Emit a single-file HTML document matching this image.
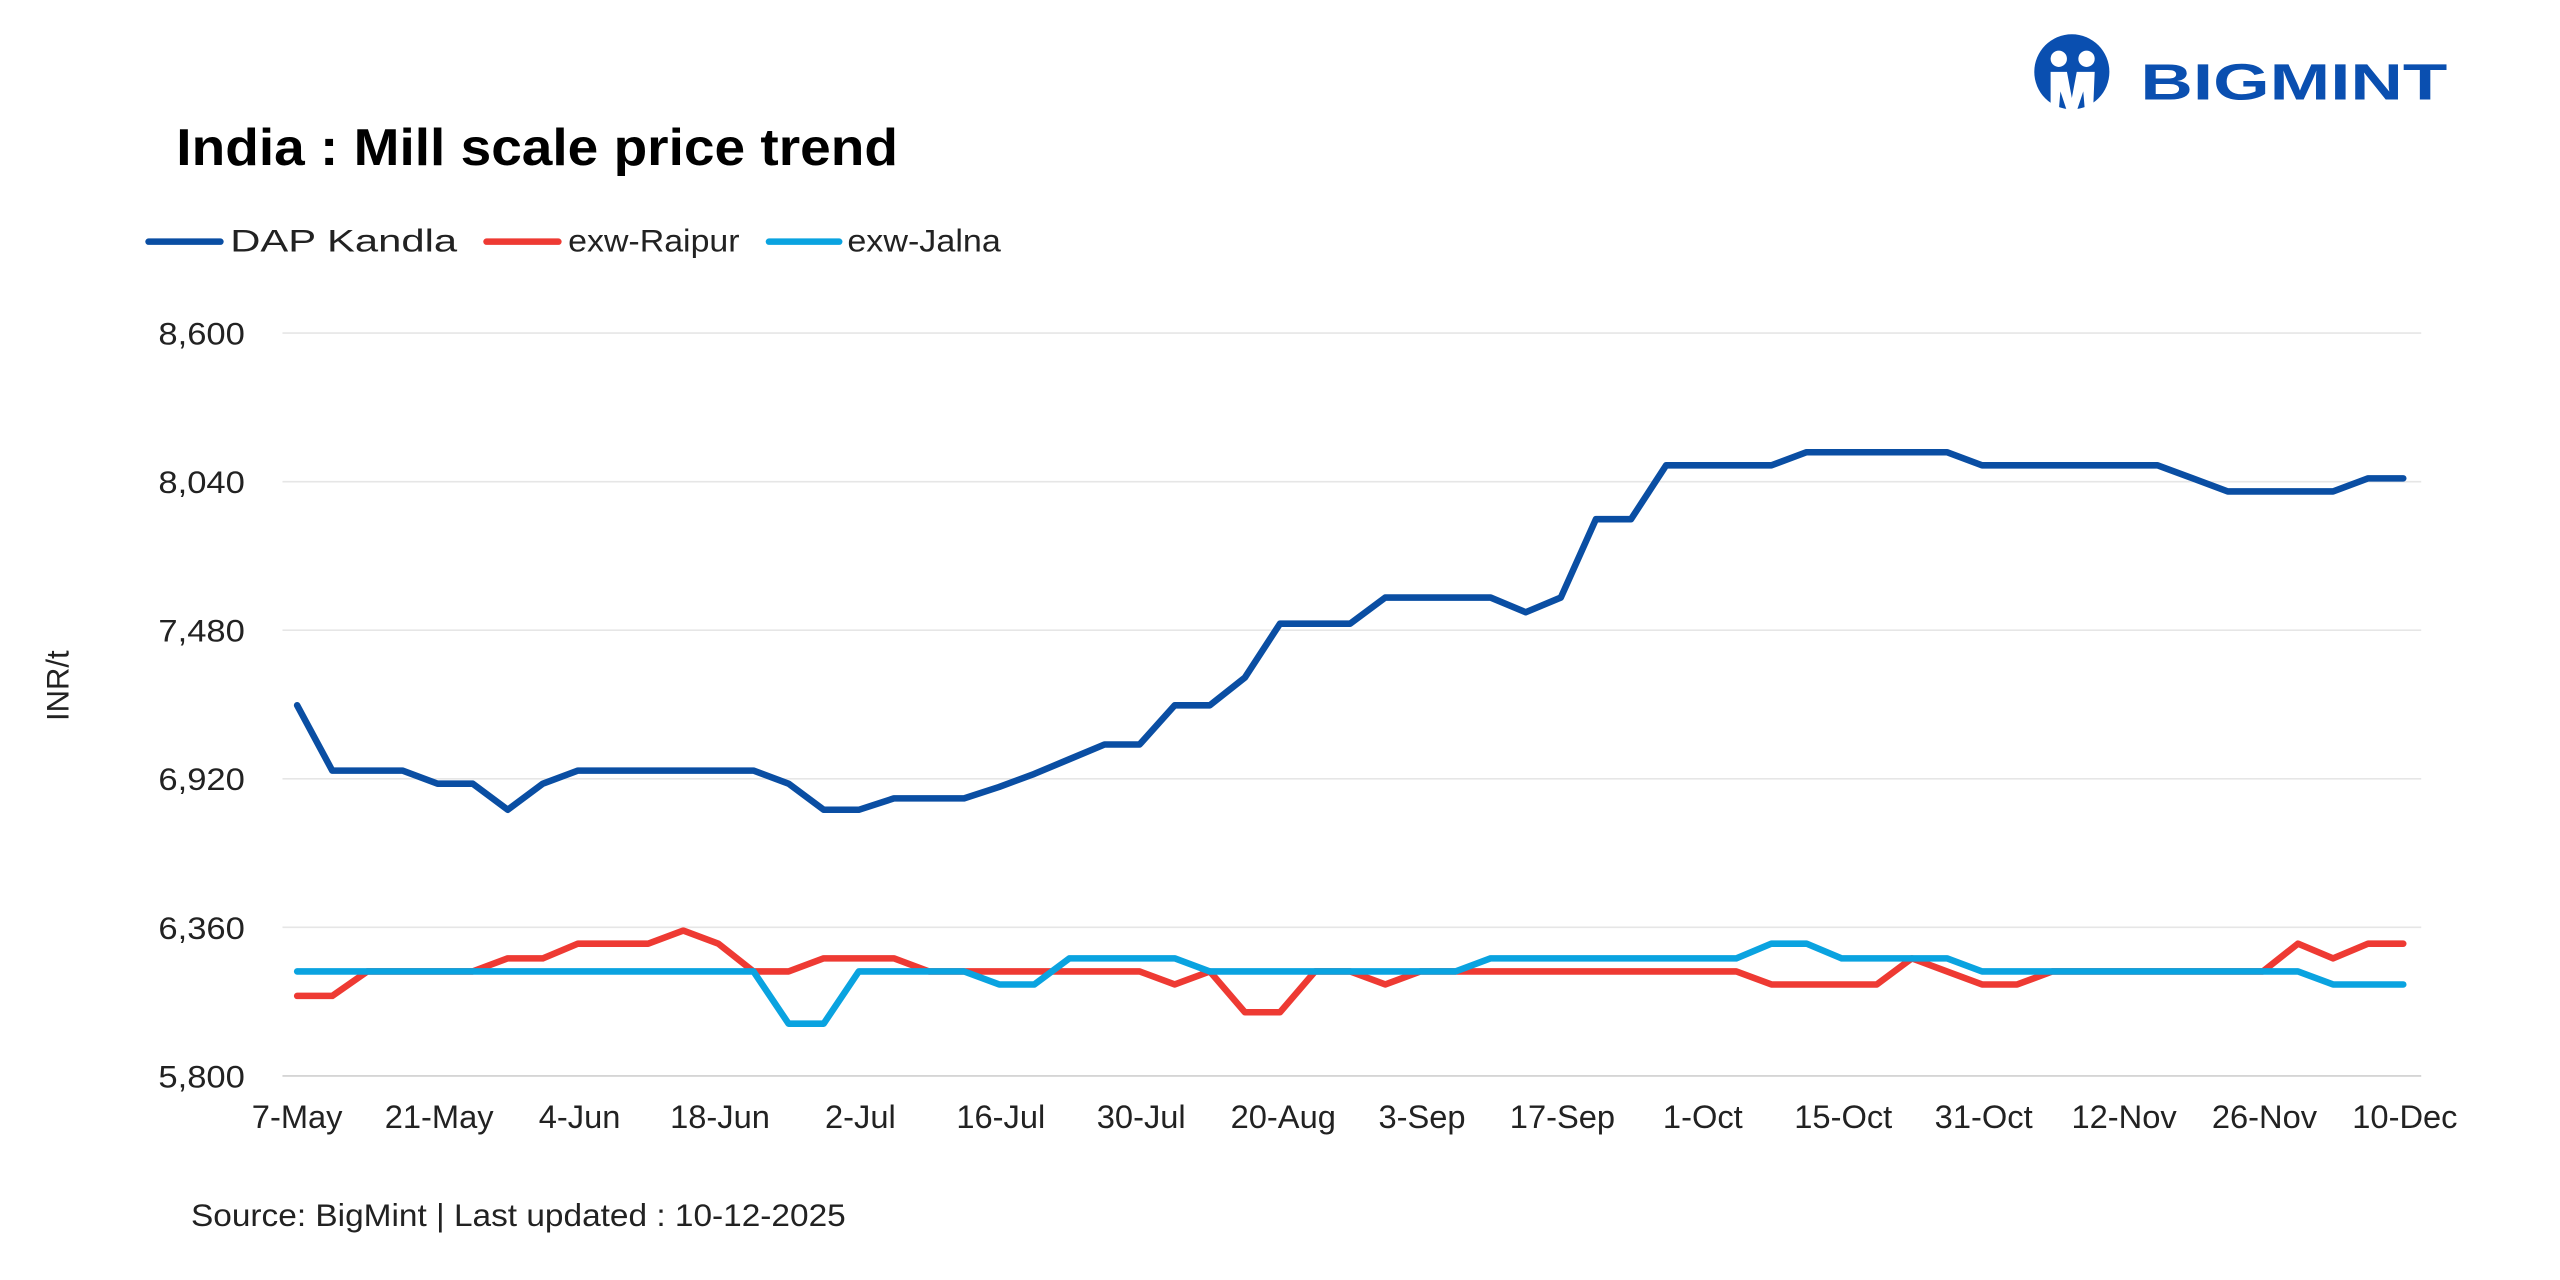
<!DOCTYPE html>
<html><head><meta charset="utf-8"><style>html,body{margin:0;padding:0;background:#fff}svg{display:block}</style></head>
<body>
<svg width="2560" height="1280" viewBox="0 0 1568 784" xmlns="http://www.w3.org/2000/svg" font-family="Liberation Sans, Arial, sans-serif">
<rect width="1568" height="784" fill="#fff"/>
<!-- logo -->
<circle cx="1269" cy="44" r="23" fill="#0a4fb0"/>
<circle cx="1261" cy="36" r="5" fill="#fff"/>
<circle cx="1278" cy="36" r="5" fill="#fff"/>
<path d="M1256 44 L1266 44 L1269 60 L1272 44 L1283 44 L1282 68 L1277 68 L1276 56 L1272 68 L1266 68 L1262 56 L1261 68 L1256 68 Z" fill="#fff"/>
<text x="1311" y="61" font-size="31" font-weight="bold" fill="#0a4fb0" textLength="188" lengthAdjust="spacingAndGlyphs">BIGMINT</text>
<text x="108" y="101" font-size="32" font-weight="bold" fill="#000" textLength="442" lengthAdjust="spacingAndGlyphs">India : Mill scale price trend</text>
<!-- legend -->
<g font-size="19" fill="#222">
<line x1="91" y1="148" x2="135" y2="148" stroke="#0a4ea3" stroke-width="4" stroke-linecap="round"/>
<text x="141" y="154" textLength="139" lengthAdjust="spacingAndGlyphs">DAP Kandla</text>
<line x1="298" y1="148" x2="342" y2="148" stroke="#ee3a33" stroke-width="4" stroke-linecap="round"/>
<text x="348" y="154" textLength="105" lengthAdjust="spacingAndGlyphs">exw-Raipur</text>
<line x1="471" y1="148" x2="514" y2="148" stroke="#0aa3e0" stroke-width="4" stroke-linecap="round"/>
<text x="519" y="154" textLength="94" lengthAdjust="spacingAndGlyphs">exw-Jalna</text>
</g>
<!-- grid -->
<g stroke="#e6e6e6" stroke-width="1">
<line x1="173" y1="204" x2="1483" y2="204"/>
<line x1="173" y1="295" x2="1483" y2="295"/>
<line x1="173" y1="386" x2="1483" y2="386"/>
<line x1="173" y1="477" x2="1483" y2="477"/>
<line x1="173" y1="568" x2="1483" y2="568"/>
</g>
<line x1="173" y1="659" x2="1483" y2="659" stroke="#cfcfcf" stroke-width="1"/>
<g font-size="19" fill="#222" text-anchor="end">
<text x="150" y="211" textLength="53" lengthAdjust="spacingAndGlyphs">8,600</text>
<text x="150" y="302" textLength="53" lengthAdjust="spacingAndGlyphs">8,040</text>
<text x="150" y="393" textLength="53" lengthAdjust="spacingAndGlyphs">7,480</text>
<text x="150" y="484" textLength="53" lengthAdjust="spacingAndGlyphs">6,920</text>
<text x="150" y="575" textLength="53" lengthAdjust="spacingAndGlyphs">6,360</text>
<text x="150" y="666" textLength="53" lengthAdjust="spacingAndGlyphs">5,800</text>
</g>
<text transform="translate(42,420) rotate(-90)" font-size="19" fill="#222" text-anchor="middle">INR/t</text>
<g font-size="20" fill="#222" text-anchor="middle">
<text x="182" y="691">7-May</text><text x="269" y="691">21-May</text><text x="355" y="691">4-Jun</text><text x="441" y="691">18-Jun</text><text x="527" y="691">2-Jul</text><text x="613" y="691">16-Jul</text><text x="699" y="691">30-Jul</text><text x="786" y="691">20-Aug</text><text x="871" y="691">3-Sep</text><text x="957" y="691">17-Sep</text><text x="1043" y="691">1-Oct</text><text x="1129" y="691">15-Oct</text><text x="1215" y="691">31-Oct</text><text x="1301" y="691">12-Nov</text><text x="1387" y="691">26-Nov</text><text x="1473" y="691">10-Dec</text>
</g>
<text x="117" y="751" font-size="19" fill="#222" textLength="401" lengthAdjust="spacingAndGlyphs">Source: BigMint | Last updated : 10-12-2025</text>
<g id="series" fill="none" stroke-width="4" stroke-linejoin="round" stroke-linecap="round"></g>
<script>
var d=[432,472,472,472,480,480,496,480,472,472,472,472,472,472,480,496,496,489,489,489,482,474,465,456,456,432,432,415,382,382,382,366,366,366,366,375,366,318,318,285,285,285,285,277,277,277,277,277,285,285,285,285,285,285,293,301,301,301,301,293,293];
var r=[610,610,595,595,595,595,587,587,578,578,578,570,578,595,595,587,587,587,595,595,595,595,595,595,595,603,595,620,620,595,595,603,595,595,595,595,595,595,595,595,595,595,603,603,603,603,587,595,603,603,595,595,595,595,595,595,595,578,587,578,578];
var c=[595,595,595,595,595,595,595,595,595,595,595,595,595,595,627,627,595,595,595,595,603,603,587,587,587,587,595,595,595,595,595,595,595,595,587,587,587,587,587,587,587,587,578,578,587,587,587,587,595,595,595,595,595,595,595,595,595,595,603,603,603];
function p(a){return a.map(function(y,i){return (182+21.5*i).toFixed(1)+','+y}).join(' ');}
var g=document.getElementById('series'),ns='http://www.w3.org/2000/svg';
[[r,'#ee3a33'],[c,'#0aa3e0'],[d,'#0a4ea3']].forEach(function(s){var e=document.createElementNS(ns,'polyline');e.setAttribute('points',p(s[0]));e.setAttribute('stroke',s[1]);g.appendChild(e);});
</script>
</svg>
</body></html>
